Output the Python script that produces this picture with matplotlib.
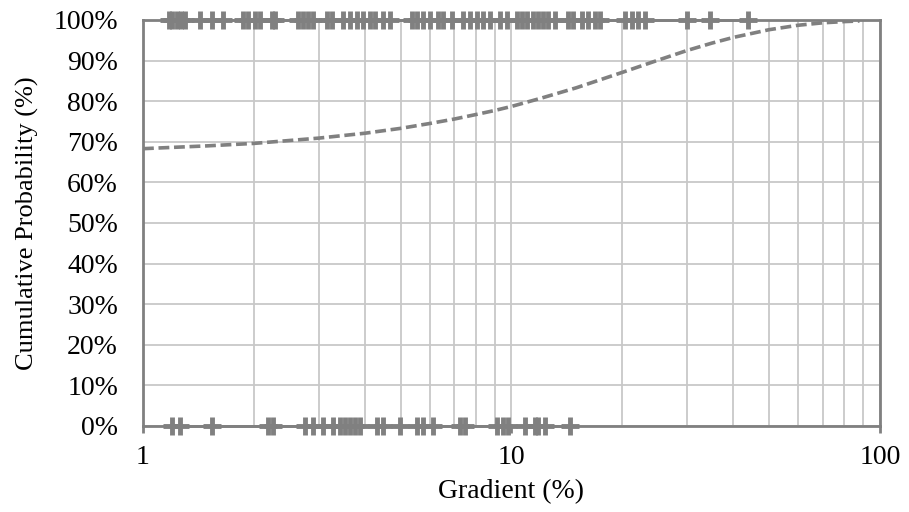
import matplotlib
matplotlib.use("Agg")
import matplotlib.pyplot as plt
from matplotlib.ticker import FixedLocator, NullFormatter

# gradients (%) of the observations plotted on the 100% line
grad_at_100 = [1.18, 1.20, 1.24, 1.27, 1.30, 1.43, 1.54, 1.65, 1.87, 1.93, 2.01, 2.08,
               2.24, 2.28, 2.63, 2.72, 2.80, 2.89, 3.16, 3.26, 3.49, 3.65, 3.81, 3.95,
               4.13, 4.26, 4.48, 4.68, 5.37, 5.54, 5.75, 6.01, 6.32, 6.52, 6.90, 7.38,
               7.71, 8.06, 8.37, 8.74, 9.31, 9.73, 10.35, 10.68, 11.02, 11.44, 11.80,
               12.17, 12.56, 13.12, 14.23, 14.69, 15.54, 16.13, 16.86, 17.38, 20.3,
               21.2, 22.0, 23.0, 29.9, 34.6, 43.8]
# gradients (%) of the observations plotted on the 0% line
grad_at_0 = [1.20, 1.26, 1.54, 2.18, 2.25, 2.75, 2.89, 3.08, 3.28, 3.42, 3.53, 3.65,
             3.76, 3.88, 4.32, 4.48, 4.98, 5.54, 5.75, 6.12, 7.25, 7.48, 9.14, 9.48,
             9.78, 10.88, 11.58, 11.80, 12.33, 14.42]

# fitted cumulative probability curve
curve_x = [1, 1.5, 2, 3, 4, 5, 6, 7, 8, 9, 10, 12, 15, 20, 25, 30, 35, 40, 50, 60, 70, 80, 88]
curve_y = [0.683, 0.690, 0.696, 0.709, 0.721, 0.733, 0.745, 0.756, 0.767, 0.777, 0.787,
           0.807, 0.833, 0.871, 0.901, 0.925, 0.943, 0.957, 0.976, 0.987, 0.993, 0.996, 0.9975]

y_ticks = [i / 10 for i in range(11)]
y_labels = ["%d%%" % (i * 10) for i in range(11)]

plt.rcParams['font.family'] = ['Liberation Serif', 'DejaVu Serif']
grey = '#808080'
grid_grey = '#c8c8c8'

fig = plt.figure(figsize=(9.09, 5.12), dpi=100)
ax = fig.add_axes([0.1573, 0.168, 0.968 - 0.1573, 0.961 - 0.168])

ax.set_xscale('log')
ax.set_xlim(1, 100)
ax.set_ylim(0, 1)

ax.plot(grad_at_100, [1] * len(grad_at_100), color=grey, lw=2, marker='+',
        markersize=13, markeredgewidth=3.5, clip_on=False, zorder=4)
ax.plot(grad_at_0, [0] * len(grad_at_0), color=grey, lw=2, marker='+',
        markersize=13, markeredgewidth=3.5, clip_on=False, zorder=4)
ax.plot(curve_x, curve_y, color=grey, lw=2.6, dashes=(3.0, 1.3), zorder=3)

ax.set_yticks(y_ticks)
ax.set_yticklabels(y_labels)
ax.set_xticks([1, 10, 100])
ax.set_xticklabels(['1', '10', '100'])
ax.xaxis.set_minor_locator(FixedLocator([m * d for d in (1, 10) for m in range(2, 10)]))
ax.xaxis.set_minor_formatter(NullFormatter())

ax.grid(True, which='both', axis='x', color=grid_grey, lw=1.3)
ax.grid(True, which='major', axis='y', color=grid_grey, lw=1.3)
ax.set_axisbelow(True)

for s in ax.spines.values():
    s.set_color(grey)
    s.set_linewidth(2)

ax.tick_params(axis='y', length=0, pad=18, labelsize=20)
ax.tick_params(axis='x', which='major', length=5, width=2, color=grey,
               direction='out', pad=9, labelsize=20)
ax.tick_params(axis='x', which='minor', length=0)

ax.set_xlabel('Gradient (%)', fontsize=20, labelpad=6)
ax.set_ylabel('Cumulative Probability (%)', fontsize=19, labelpad=10)

fig.savefig('out.png', dpi=100)
